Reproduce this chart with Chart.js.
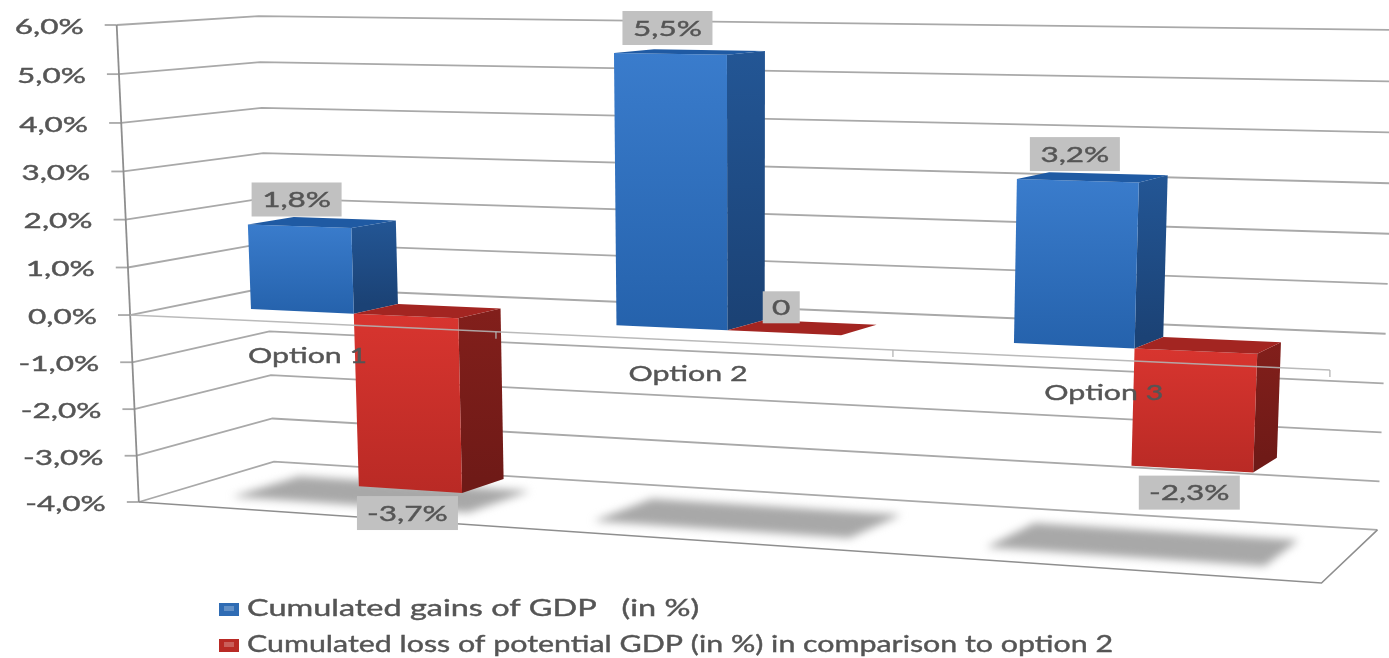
<!DOCTYPE html>
<html>
<head>
<meta charset="utf-8">
<title>Cumulated GDP effects by option</title>
<style>
    html, body { margin: 0; padding: 0; background: #fff; overflow: hidden; }
    #chart-wrap { width: 1389px; height: 658px; }
</style>
<script src="https://cdn.jsdelivr.net/npm/chart.js@4"></script>
</head>
<body>
<div id="chart-wrap"><canvas id="gdpChart" width="1389" height="658"></canvas></div>
<script>
const categories = ['Option 1', 'Option 2', 'Option 3'];
const gainsOfGdp = [1.8, 5.5, 3.2];
const lossOfPotentialGdp = [-3.7, 0, -2.3];
const seriesLabels = [
    'Cumulated gains of GDP   (in %)',
    'Cumulated loss of potential GDP (in %) in comparison to option 2'
];
const yTickLabels = ['-4,0%', '-3,0%', '-2,0%', '-1,0%', '0,0%', '1,0%', '2,0%', '3,0%', '4,0%', '5,0%', '6,0%'];

const FONT = 'Lato, sans-serif';
const TEXT_COLOR = '#555';
const GRID_COLOR = '#a9a9a9';
const DEPTH_BACK = 3;

const blueFaces = { front: ['#3a7ccc', '#2562ac'], side: ['#235695', '#1b4275'], top: '#1f5aa3', swatch: '#2f6cb4' };
const redFaces = { front: ['#d8352f', '#b92a25'], side: ['#821f1b', '#6f1a17'], top: '#a32521', swatch: '#b92a25' };

// slight bulge of the value axis caused by the perspective
function bulge(v) {
    return 0.16 * (6 - v) * (v + 4);
}

// Screen position of a point in the 3D box: u is in category widths from the
// centre of the x scale, v is the axis value, depth runs 0 (front) to 3 (wall)
function frontPoint(u, v) {
    const x = 690 + 396.6 * u + 17.75 * u * u + 1.5 * u * u * u;
    const top = 25 + 0.0133 * (x - 130);
    const unit = 47.7 + 0.00542 * (x - 130);
    return { x: x + 0.0036 * v * (x - 745), y: top + (6 - v) * unit + bulge(v) };
}

function backPoint(u, v) {
    const x = 802 + 384 * u + 11 * u * u - 5.07 * u * u * u - 3.2 * u * (u - 1) * (u * u - 2.25);
    const top = 16 + 0.0124 * (x - 258);
    const unit = 44.5 + 0.00487 * (x - 258);
    return { x: x + 0.0032 * v * (x - 745), y: top + (6 - v) * unit + bulge(v) };
}

function project(chart, px, v, depth) {
    const area = chart.chartArea;
    const u = (px - (area.left + area.right) / 2) / (area.width / categories.length);
    const f = frontPoint(u, v);
    const b = backPoint(u, v);
    const t = depth / DEPTH_BACK;
    return { x: f.x + (b.x - f.x) * t, y: f.y + (b.y - f.y) * t };
}

function polyline(ctx, pts) {
    ctx.beginPath();
    pts.forEach((p, i) => (i === 0 ? ctx.moveTo(p.x, p.y) : ctx.lineTo(p.x, p.y)));
}

function fillPoly(ctx, pts, fill) {
    polyline(ctx, pts);
    ctx.closePath();
    ctx.fillStyle = fill;
    ctx.fill();
}

function strokeLine(ctx, a, b, color, width) {
    polyline(ctx, [a, b]);
    ctx.strokeStyle = color;
    ctx.lineWidth = width;
    ctx.stroke();
}

// The text in this chart is wide and low, so it is stretched horizontally
function drawText(ctx, text, x, y, size, stretch, align) {
    ctx.save();
    ctx.font = `${size}px ${FONT}`;
    ctx.fillStyle = TEXT_COLOR;
    ctx.strokeStyle = TEXT_COLOR;
    ctx.lineWidth = 0.4;
    ctx.textBaseline = 'middle';
    ctx.textAlign = align;
    ctx.translate(x, y);
    ctx.scale(stretch, 1);
    ctx.fillText(text, 0, 0);
    ctx.strokeText(text, 0, 0);
    ctx.restore();
}

function formatValue(v) {
    return v === 0 ? '0' : v.toFixed(1).replace('.', ',') + '%';
}

function drawWalls(chart) {
    const ctx = chart.ctx;
    const { left, right } = chart.chartArea;
    const yScale = chart.scales.y;

    yScale.ticks.forEach(tick => {
        const v = tick.value;
        const a = project(chart, left, v, 0);
        const b = project(chart, left, v, DEPTH_BACK);
        const c = project(chart, right, v, DEPTH_BACK);
        polyline(ctx, [a, b, c]);
        ctx.strokeStyle = GRID_COLOR;
        ctx.lineWidth = 1.8;
        ctx.stroke();
        strokeLine(ctx, { x: a.x - 12, y: a.y }, a, GRID_COLOR, 1.8);
        drawText(ctx, tick.label, a.x - 33, a.y + 2, 21, 1.5, 'right');
    });

    // vertical axis and the floor outline
    const floor = yScale.min;
    strokeLine(ctx, project(chart, left, yScale.max, 0), project(chart, left, floor, 0), '#8e8e8e', 1.8);
    polyline(ctx, [
        project(chart, left, floor, 0),
        project(chart, right, floor, 0),
        project(chart, right, floor, DEPTH_BACK)
    ]);
    ctx.strokeStyle = '#8e8e8e';
    ctx.lineWidth = 1.6;
    ctx.stroke();
}

function drawShadows(chart) {
    const ctx = chart.ctx;
    const blue = chart.getDatasetMeta(0).data;
    const red = chart.getDatasetMeta(1).data;
    const floor = chart.scales.y.min;

    ctx.save();
    ctx.filter = 'blur(4px)';
    blue.forEach((bar, i) => {
        const l = bar.x - bar.width / 2 - 14;
        const r = red[i].x + red[i].width / 2 + 20;
        fillPoly(ctx, [
            project(chart, l, floor, 0.7),
            project(chart, r, floor, 0.7),
            project(chart, r, floor, 2.2),
            project(chart, l, floor, 2.2)
        ], '#a8a8a8');
    });
    ctx.restore();
}

function drawBar(chart, bar, value, faces) {
    const ctx = chart.ctx;
    const l = bar.x - bar.width / 2;
    const r = bar.x + bar.width / 2;
    const high = Math.max(value, 0);
    const low = Math.min(value, 0);

    const fl = project(chart, l, high, 1);
    const fr = project(chart, r, high, 1);
    const flb = project(chart, l, low, 1);
    const frb = project(chart, r, low, 1);
    const bl = project(chart, l, high, 2);
    const br = project(chart, r, high, 2);
    const brb = project(chart, r, low, 2);

    const sideFill = ctx.createLinearGradient(0, br.y, 0, brb.y);
    sideFill.addColorStop(0, faces.side[0]);
    sideFill.addColorStop(1, faces.side[1]);
    fillPoly(ctx, [fr, br, brb, frb], sideFill);

    const frontFill = ctx.createLinearGradient(0, fl.y, 0, frb.y);
    frontFill.addColorStop(0, faces.front[0]);
    frontFill.addColorStop(1, faces.front[1]);
    fillPoly(ctx, [fl, fr, frb, flb], frontFill);

    fillPoly(ctx, [fl, bl, br, fr], faces.top);
}

function drawCategoryAxis(chart) {
    const ctx = chart.ctx;
    const { left, right, width } = chart.chartArea;
    const step = width / categories.length;

    strokeLine(ctx, project(chart, left, 0, 0), project(chart, right, 0, 0), 'rgba(178,178,178,0.9)', 1.6);
    for (let i = 1; i <= categories.length; i++) {
        const p = project(chart, left + step * i, 0, 0);
        strokeLine(ctx, p, { x: p.x, y: p.y + 7 }, 'rgba(178,178,178,0.9)', 1.4);
    }
    chart.scales.x.ticks.forEach((tick, i) => {
        const p = project(chart, chart.scales.x.getPixelForTick(i), 0, 0);
        drawText(ctx, tick.label, p.x - 2, p.y + 33, 22, 1.38, 'center');
    });
}

function drawValueBox(chart, bar, value) {
    const ctx = chart.ctx;
    const l = bar.x - bar.width / 2;
    const r = bar.x + bar.width / 2;
    const label = formatValue(value);
    const boxW = value === 0 ? 37 : (value < 0 ? 101 : 90);
    const boxH = value === 0 ? 32 : 34;
    const frontLeft = project(chart, l, value, 1);
    const frontRight = project(chart, r, value, 1);
    const cx = (frontLeft.x + frontRight.x) / 2 - 3;
    const top = value < 0 ? frontRight.y + 3 : frontLeft.y - (value === 0 ? 7 : 8) - boxH;

    ctx.fillStyle = '#c1c1c1';
    ctx.fillRect(cx - boxW / 2, top, boxW, boxH);
    drawText(ctx, label, cx, top + boxH / 2 + 1, 21, 1.5, 'center');
}

function drawLegend(chart) {
    const ctx = chart.ctx;
    const rows = [
        { y: 609, faces: blueFaces, stretch: 1.41 },
        { y: 645, faces: redFaces, stretch: 1.32 }
    ];
    chart.data.datasets.forEach((ds, i) => {
        const { y, faces, stretch } = rows[i];
        ctx.fillStyle = faces.swatch;
        ctx.fillRect(219, y - 6, 20, 13);
        ctx.fillStyle = 'rgba(255,255,255,0.25)';
        ctx.fillRect(224, y - 3, 10, 5);
        drawText(ctx, ds.label, 247, y, 23, stretch, 'left');
    });
}

// Faces of the bars are painted here instead of the default flat rectangles
const box3dPlugin = {
    id: 'box3d',
    beforeDatasetsDraw(chart) {
        drawWalls(chart);
        drawShadows(chart);
    },
    beforeDatasetDraw() {
        return false;
    },
    afterDatasetsDraw(chart) {
        const yScale = chart.scales.y;
        const blue = chart.getDatasetMeta(0).data;
        const red = chart.getDatasetMeta(1).data;

        blue.forEach((bar, i) => {
            drawBar(chart, bar, yScale.getValueForPixel(bar.y), blueFaces);
            drawBar(chart, red[i], yScale.getValueForPixel(red[i].y), redFaces);
        });
        drawCategoryAxis(chart);
        blue.forEach((bar, i) => {
            drawValueBox(chart, bar, gainsOfGdp[i]);
            drawValueBox(chart, red[i], lossOfPotentialGdp[i]);
        });
        drawLegend(chart);
    }
};

new Chart(document.getElementById('gdpChart').getContext('2d'), {
    type: 'bar',
    data: {
        labels: categories,
        datasets: [
            { label: seriesLabels[0], data: gainsOfGdp, backgroundColor: blueFaces.swatch },
            { label: seriesLabels[1], data: lossOfPotentialGdp, backgroundColor: redFaces.swatch }
        ]
    },
    options: {
        responsive: false,
        animation: false,
        layout: { padding: { left: 133, right: 59, top: 25, bottom: 156 } },
        datasets: { bar: { categoryPercentage: 0.576, barPercentage: 1 } },
        plugins: {
            legend: { display: false },
            tooltip: { enabled: false }
        },
        scales: {
            x: { display: false },
            y: {
                display: false,
                min: -4,
                max: 6,
                ticks: {
                    stepSize: 1,
                    callback: (value, index) => yTickLabels[index]
                }
            }
        }
    },
    plugins: [box3dPlugin]
});
</script>
</body>
</html>
